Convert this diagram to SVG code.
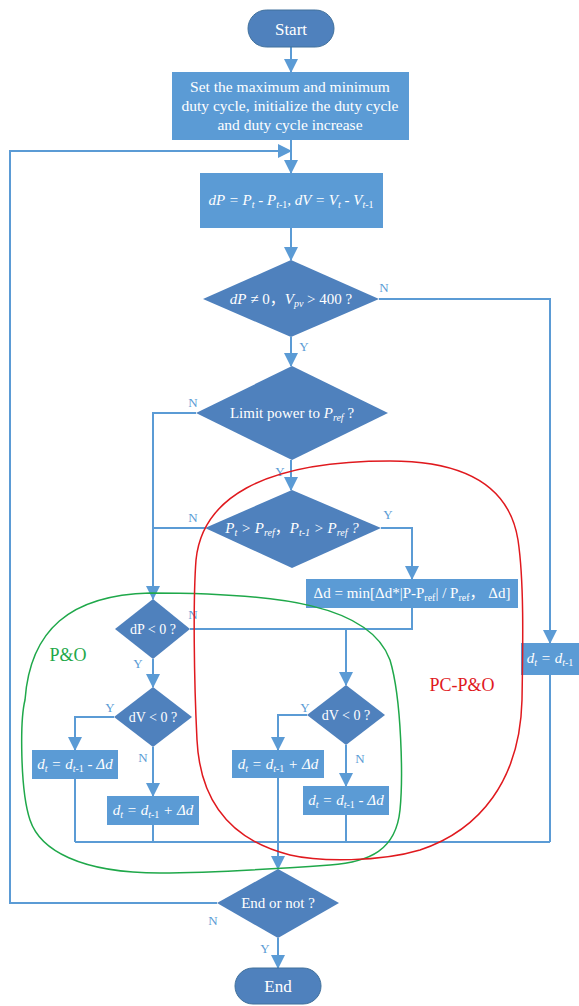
<svg xmlns="http://www.w3.org/2000/svg" width="579" height="1006" viewBox="0 0 579 1006">
<defs>
<style>
.box{fill:#5B9BD5;}
.dia{fill:#4F81BD;}
.pill{fill:#4F81BD;stroke:#41719C;stroke-width:1;}
.t{font-family:"Liberation Serif",serif;fill:#fff;text-anchor:middle;}
.cjk{font-family:"Liberation Serif","Noto Sans CJK SC",serif;}
.i{font-style:italic;}
.lbl{font-family:"Liberation Serif",serif;fill:#5B9BD5;font-size:13px;text-anchor:middle;}
.c{fill:none;stroke:#5B9BD5;stroke-width:2;}
.ca{fill:none;stroke:#5B9BD5;stroke-width:2;marker-end:url(#ah);}
</style>
<marker id="ah" markerUnits="userSpaceOnUse" markerWidth="14" markerHeight="14" viewBox="0 0 14 14" refX="13" refY="7" orient="auto">
<path d="M0,0 L14,7 L0,14 Z" fill="#5B9BD5"/>
</marker>
</defs>
<rect width="579" height="1006" fill="#fff"/>

<g id="connectors">
<path class="ca" d="M291 47 V72"/>
<path class="c" d="M291 140 V172"/>
<path class="ca" d="M217 903 H10 V151 H291"/>
<path class="ca" d="M291 151 V173"/>
<path class="ca" d="M291 228 V260"/>
<path class="ca" d="M379 299 H550 V643"/>
<path class="ca" d="M291 337 V366"/>
<path class="ca" d="M196 413 H153 V599"/>
<path class="ca" d="M291 460 V490"/>
<path class="c" d="M205 528 H153"/>
<path class="ca" d="M381 528 H412 V579"/>
<path class="c" d="M412 608 V629 H190"/>
<path class="ca" d="M346 629 V685"/>
<path class="ca" d="M153 659 V687"/>
<path class="ca" d="M114 717 H75 V750"/>
<path class="ca" d="M153 747 V796"/>
<path class="c" d="M75 779 V842"/>
<path class="c" d="M153 825 V842"/>
<path class="c" d="M75 842 H550"/>
<path class="c" d="M550 675 V842"/>
<path class="ca" d="M307 715 H278 V750"/>
<path class="ca" d="M346 745 V786"/>
<path class="c" d="M346 815 V842"/>
<path class="ca" d="M278 778 V869"/>
<path class="ca" d="M278 938 V968"/>
</g>

<g id="start">
<rect class="pill" x="248" y="10" width="86" height="37" rx="18.5"/>
<text class="t" x="291" y="35" font-size="17">Start</text>
</g>

<g id="init">
<rect class="box" x="172" y="72" width="237" height="68"/>
<text class="t" font-size="15.5"><tspan x="290" y="92">Set the maximum and minimum</tspan><tspan x="290" y="111">duty cycle, initialize the duty cycle</tspan><tspan x="290" y="130">and duty cycle increase</tspan></text>
</g>

<g id="calc">
<rect class="box" x="200" y="173" width="183" height="55"/>
<text class="t i" x="291" y="205" font-size="15">dP = P<tspan font-size="10" dy="3">t</tspan><tspan dy="-3"> - P</tspan><tspan font-size="10" dy="3">t-</tspan><tspan font-size="10" font-style="normal">1</tspan><tspan dy="-3" font-style="normal">, </tspan>dV = V<tspan font-size="10" dy="3">t</tspan><tspan dy="-3"> - V</tspan><tspan font-size="10" dy="3">t-</tspan><tspan font-size="10" font-style="normal">1</tspan></text>
</g>

<g id="d1">
<polygon class="dia" points="291,260 379,299 291,337 203,299"/>
<text class="t cjk" x="291" y="304" font-size="15"><tspan font-style="italic">dP</tspan> ≠ 0，<tspan font-style="italic">V</tspan><tspan font-style="italic" font-size="10" dy="3">pv</tspan><tspan dy="-3"> &gt; 400 ?</tspan></text>
</g>

<g id="limit">
<polygon class="dia" points="292,366 388,413 292,460 196,413"/>
<text class="t" x="292" y="418" font-size="15">Limit power to <tspan font-style="italic">P</tspan><tspan font-style="italic" font-size="10" dy="3">ref</tspan><tspan dy="-3"> ?</tspan></text>
</g>

<g id="pt">
<polygon class="dia" points="292,490 381,528 292,568 205,528"/>
<text class="t i cjk" x="292" y="533" font-size="15">P<tspan font-size="10" dy="3">t</tspan><tspan dy="-3"> &gt; P</tspan><tspan font-size="10" dy="3">ref</tspan><tspan dy="-3" font-style="normal">，</tspan>P<tspan font-size="10" dy="3">t-1</tspan><tspan dy="-3"> &gt; P</tspan><tspan font-size="10" dy="3">ref</tspan><tspan dy="-3"> ?</tspan></text>
</g>

<g id="delta">
<rect class="box" x="306" y="579" width="212" height="29"/>
<text class="t cjk" x="412" y="598" font-size="15">Δd = min[Δd*|P-P<tspan font-size="10" dy="3">ref</tspan><tspan dy="-3">| / P</tspan><tspan font-size="10" dy="3">ref</tspan><tspan dy="-3">，  Δd]</tspan></text>
</g>

<g id="dp0">
<polygon class="dia" points="153,599 190,629 153,659 115,629"/>
<text class="t" x="153" y="634" font-size="14">dP &lt; 0 ?</text>
</g>

<g id="dv0left">
<polygon class="dia" points="153,687 192,717 153,747 114,717"/>
<text class="t" x="153" y="722" font-size="14">dV &lt; 0 ?</text>
</g>

<g id="left1">
<rect class="box" x="32" y="750" width="86" height="29"/>
<text class="t i" x="75" y="769" font-size="15">d<tspan font-size="10" dy="3">t</tspan><tspan dy="-3"> = d</tspan><tspan font-size="10" dy="3">t-</tspan><tspan font-size="10" font-style="normal">1</tspan><tspan dy="-3"> - Δd</tspan></text>
</g>

<g id="left2">
<rect class="box" x="107" y="796" width="92" height="29"/>
<text class="t i" x="153" y="815" font-size="15">d<tspan font-size="10" dy="3">t</tspan><tspan dy="-3"> = d</tspan><tspan font-size="10" dy="3">t-</tspan><tspan font-size="10" font-style="normal">1</tspan><tspan dy="-3"> + Δd</tspan></text>
</g>

<g id="dv0right">
<polygon class="dia" points="346,685 385,715 346,745 307,715"/>
<text class="t" x="346" y="720" font-size="14">dV &lt; 0 ?</text>
</g>

<g id="right1">
<rect class="box" x="232" y="750" width="92" height="28"/>
<text class="t i" x="278" y="769" font-size="15">d<tspan font-size="10" dy="3">t</tspan><tspan dy="-3"> = d</tspan><tspan font-size="10" dy="3">t-</tspan><tspan font-size="10" font-style="normal">1</tspan><tspan dy="-3"> + Δd</tspan></text>
</g>

<g id="right2">
<rect class="box" x="303" y="786" width="86" height="29"/>
<text class="t i" x="346" y="805" font-size="15">d<tspan font-size="10" dy="3">t</tspan><tspan dy="-3"> = d</tspan><tspan font-size="10" dy="3">t-</tspan><tspan font-size="10" font-style="normal">1</tspan><tspan dy="-3"> - Δd</tspan></text>
</g>

<g id="hold">
<rect class="box" x="521" y="643" width="60" height="32"/>
<text class="t i" x="550" y="663" font-size="15">d<tspan font-size="10" dy="3">t</tspan><tspan dy="-3"> = d</tspan><tspan font-size="10" dy="3">t-</tspan><tspan font-size="10" font-style="normal">1</tspan></text>
</g>

<g id="endq">
<polygon class="dia" points="278,869 339,903 278,938 217,903"/>
<text class="t" x="278" y="908" font-size="15">End or not ?</text>
</g>

<g id="end">
<rect class="pill" x="235" y="968" width="86" height="36" rx="18"/>
<text class="t" x="278" y="992" font-size="17">End</text>
</g>

<g id="labels">
<text class="lbl" x="384" y="292">N</text>
<text class="lbl" x="304" y="351">Y</text>
<text class="lbl" x="193" y="407">N</text>
<text class="lbl" x="280" y="476">Y</text>
<text class="lbl" x="193" y="522">N</text>
<text class="lbl" x="388" y="519">Y</text>
<text class="lbl" x="193" y="619">N</text>
<text class="lbl" x="138" y="668">Y</text>
<text class="lbl" x="110" y="712">Y</text>
<text class="lbl" x="143" y="762">N</text>
<text class="lbl" x="305" y="712">Y</text>
<text class="lbl" x="360" y="763">N</text>
<text class="lbl" x="213" y="925">N</text>
<text class="lbl" x="265" y="953">Y</text>
</g>

<g id="regions">
<path d="M150,593 C280,593 370,605 390,660 C402,700 403,780 400,810 C396,850 370,862 330,865 C260,870 200,873 160,873 C80,873 40,850 30,820 C20,790 20,720 25,700 C30,630 70,595 150,593 Z" fill="none" stroke="#1FA84A" stroke-width="1.5"/>
<path d="M390,461 C470,461 510,490 518,540 C524,580 523,640 522,700 C520,780 480,830 420,850 C380,862 320,862 290,855 C230,840 200,800 197,740 C194,680 193,600 196,560 C202,500 260,461 390,461 Z" fill="none" stroke="#E0191E" stroke-width="1.5"/>
<text x="68" y="661" font-family="Liberation Serif,serif" font-size="18" fill="#1FA84A" text-anchor="middle">P&amp;O</text>
<text x="462" y="691" font-family="Liberation Serif,serif" font-size="18" fill="#E0191E" text-anchor="middle">PC-P&amp;O</text>
</g>
</svg>
